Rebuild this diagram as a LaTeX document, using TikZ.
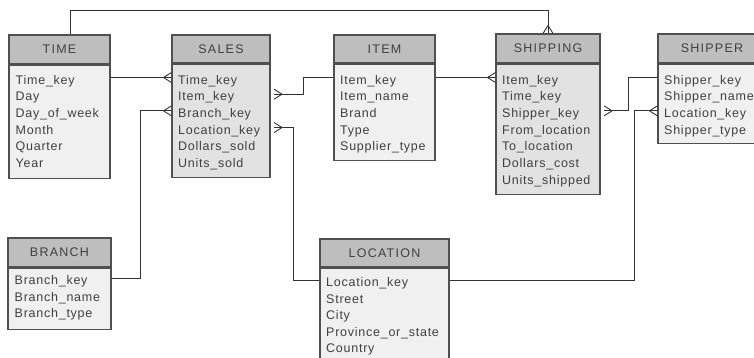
\documentclass[tikz,border=0pt]{standalone}
\usepackage{fontspec}
\newfontfamily\erfont{Liberation Sans}[LetterSpace=6]
\newfontfamily\erhead{Liberation Sans}[LetterSpace=10]
\usetikzlibrary{calc}
\definecolor{headfill}{HTML}{BEBEBE}
\definecolor{bodyfill}{HTML}{F0F0F0}
\definecolor{factfill}{HTML}{E2E2E2}
\definecolor{boxline}{HTML}{505050}
\definecolor{linec}{HTML}{333333}
\definecolor{txt}{HTML}{404040}
\tikzset{
head/.style={draw=boxline,fill=headfill,line width=1.1pt,inner sep=0pt,font=\erhead\fontsize{12.5}{14}\selectfont,text=txt},
body/.style={draw=boxline,fill=bodyfill,line width=1.1pt,inner sep=0pt,anchor=north},
fact/.style={body,fill=factfill},
row/.style={anchor=base west,inner sep=0pt,text height=13pt,text depth=0pt,font=\erfont\fontsize{12.5}{14}\selectfont,text=txt},
conn/.style={draw=linec,line width=0.9pt},
crow/.pic={\draw[conn] (-8,0) -- (0,5) (-8,0) -- (0,-5);}
}

\begin{document}
\begin{tikzpicture}[x=1pt,y=-1pt]
\useasboundingbox (0,0) rectangle (754,357);
% tables along the top
\node[head,minimum width=101pt,minimum height=29pt] (time) at (59.5,49.5) {TIME};
\node[body,minimum width=101pt,minimum height=113pt] (timeb) at (time.south) {};
\node[head,minimum width=98pt,minimum height=28pt] (sales) at (221,49) {SALES};
\node[fact,minimum width=98pt,minimum height=113pt] (salesb) at (sales.south) {};
\node[head,minimum width=101pt,minimum height=28pt] (item) at (384.5,49) {ITEM};
\node[body,minimum width=101pt,minimum height=96pt] (itemb) at (item.south) {};
\node[head,minimum width=104pt,minimum height=29pt] (ship) at (548,48.5) {SHIPPING};
\node[fact,minimum width=104pt,minimum height=130pt] (shipb) at (ship.south) {};
\node[head,minimum width=108pt,minimum height=29pt] (shipper) at (712,48.5) {SHIPPER};
\node[body,minimum width=108pt,minimum height=79pt] (shipperb) at (shipper.south) {};
% tables below
\node[head,minimum width=103pt,minimum height=29pt] (branch) at (59.5,252.5) {BRANCH};
\node[body,minimum width=103pt,minimum height=61pt] (branchb) at (branch.south) {};
\node[head,minimum width=129pt,minimum height=28pt] (loc) at (384.5,253) {LOCATION};
\node[body,minimum width=129pt,minimum height=98pt] (locb) at (loc.south) {};

% rows
\foreach \t [count=\i] in {Time\_key,Day,Day\_of\_week,Month,Quarter,Year}
  \node[row] (time\i) at (15.5,67.33+16.67*\i) {\t};
\foreach \t [count=\i] in {Time\_key,Item\_key,Branch\_key,Location\_key,Dollars\_sold,Units\_sold}
  \node[row] (sales\i) at (178,67.33+16.67*\i) {\t};
\foreach \t [count=\i] in {Item\_key,Item\_name,Brand,Type,Supplier\_type}
  \node[row] (item\i) at (340,67.33+16.67*\i) {\t};
\foreach \t [count=\i] in {Item\_key,Time\_key,Shipper\_key,From\_location,To\_location,Dollars\_cost,Units\_shipped}
  \node[row] (ship\i) at (502,67.33+16.67*\i) {\t};
\foreach \t [count=\i] in {Shipper\_key,Shipper\_name,Location\_key,Shipper\_type}
  \node[row] (shipper\i) at (664,67.33+16.67*\i) {\t};
\foreach \t [count=\i] in {Branch\_key,Branch\_name,Branch\_type}
  \node[row] (branch\i) at (14.5,268+16.6*\i) {\t};
\foreach \t [count=\i] in {Location\_key,Street,City,Province\_or\_state,Country}
  \node[row] (loc\i) at (326,270+16.5*\i) {\t};

% connectors
\draw[conn] ([xshift=10.5pt]time.north) -- ++(0,-24) -| (ship.north);
\pic[rotate=-90] at (ship.north) {crow};
\draw[conn] (timeb.east |- time1) -- (salesb.west |- sales1);
\pic at (salesb.west |- sales1) {crow};
\draw[conn] ($(salesb.east |- sales2)+(3.5,0)$) -- ++(29.5,0) |- (itemb.west |- item1);
\pic[rotate=180] at ($(salesb.east |- sales2)+(3.5,0)$) {crow};
\draw[conn] (salesb.west |- sales3) -- ++(-31,0) |- (branchb.east |- branch1);
\pic at (salesb.west |- sales3) {crow};
\draw[conn] ($(salesb.east |- sales4)+(3.5,0)$) -- ++(19.5,0) |- (locb.west |- loc1);
\pic[rotate=180] at ($(salesb.east |- sales4)+(3.5,0)$) {crow};
\draw[conn] (itemb.east |- item1) -- (shipb.west |- ship1);
\pic at (shipb.west |- ship1) {crow};
\draw[conn] ($(shipb.east |- ship3)+(3.5,0)$) -- ++(24.5,0) |- (shipperb.west |- shipper1);
\pic[rotate=180] at ($(shipb.east |- ship3)+(3.5,0)$) {crow};
\draw[conn] (shipperb.west |- shipper3) -- ++(-23,0) |- (locb.east |- loc1);
\pic at (shipperb.west |- shipper3) {crow};
\end{tikzpicture}
\end{document}
